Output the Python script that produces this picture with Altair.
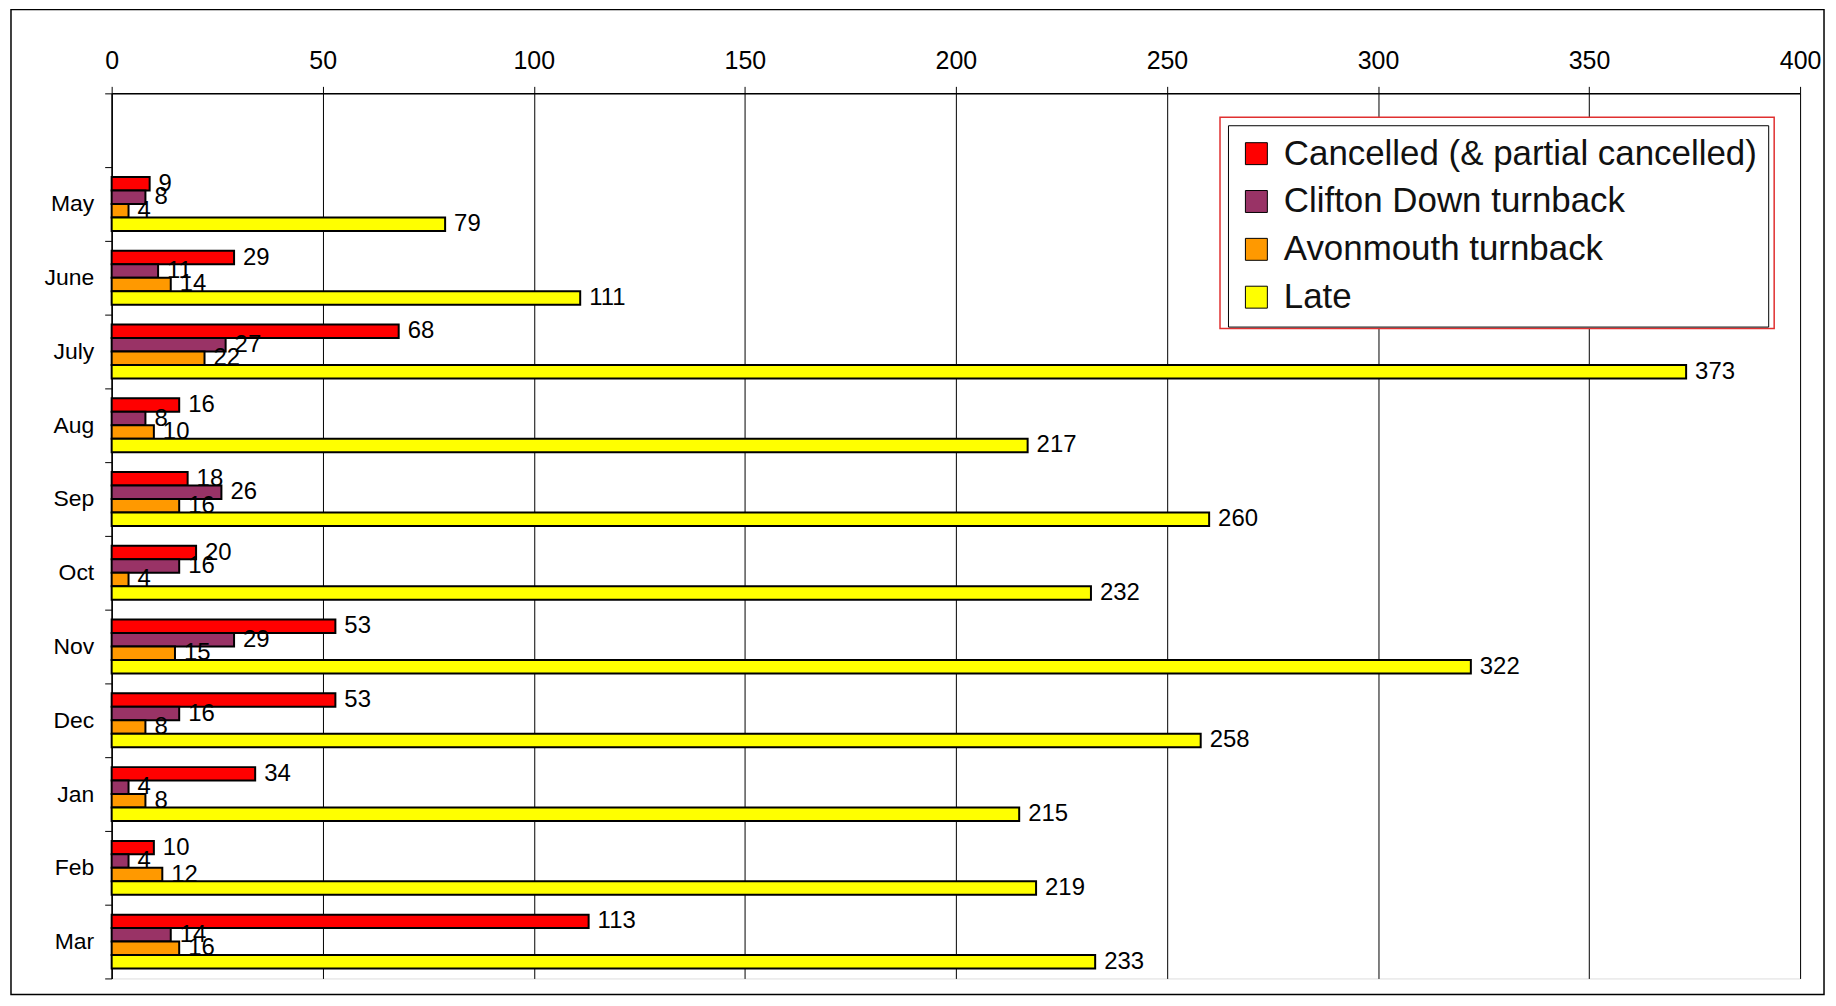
import altair as alt
import pandas as pd

months = ["May", "June", "July", "Aug", "Sep", "Oct", "Nov", "Dec", "Jan", "Feb", "Mar"]
series = ["Cancelled (& partial cancelled)", "Clifton Down turnback", "Avonmouth turnback", "Late"]
cancelled = [9, 29, 68, 16, 18, 20, 53, 53, 34, 10, 113]
clifton = [8, 11, 27, 8, 26, 16, 29, 16, 4, 4, 14]
avonmouth = [4, 14, 22, 10, 16, 4, 15, 8, 8, 12, 16]
late = [79, 111, 373, 217, 260, 232, 322, 258, 215, 219, 233]
colors = ["#FF0000", "#993366", "#FF9900", "#FFFF00"]
x_ticks = [0, 50, 100, 150, 200, 250, 300, 350, 400]

rows = []
for s, vals in zip(series, [cancelled, clifton, avonmouth, late]):
    for m, v in zip(months, vals):
        rows.append({"month": m, "series": s, "value": v})
df = pd.DataFrame(rows)

FONT = "Liberation Sans"
ydomain = [" "] + months

y_enc = alt.Y("month:N", title=None,
              scale=alt.Scale(domain=ydomain, paddingInner=0, paddingOuter=0),
              axis=alt.Axis(tickBand="extent", tickSize=7, tickColor="black",
                            domainColor="black", domainWidth=1.5, labelFontSize=23,
                            labelFont=FONT, labelColor="black", labelPadding=11,
                            grid=False))
yoff_enc = alt.YOffset("series:N", sort=series,
                       scale=alt.Scale(domain=series, paddingInner=0, paddingOuter=0.74))
x_enc = alt.X("value:Q", title=None,
              scale=alt.Scale(domain=[0, 400], nice=False),
              axis=alt.Axis(orient="top", values=x_ticks, grid=True, gridColor="black",
                            gridWidth=1, gridOpacity=1, tickSize=7, tickColor="black",
                            domainColor="black", domainWidth=1.5, labelFontSize=25,
                            labelFont=FONT, labelColor="black", labelPadding=13,
                            labelFlush=False))

bars = alt.Chart(df).mark_bar(stroke="black", strokeWidth=2).encode(
    x=x_enc, y=y_enc, yOffset=yoff_enc,
    color=alt.Color("series:N", scale=alt.Scale(domain=series, range=colors),
                    legend=alt.Legend(orient="none", legendX=1120, legendY=32, title=None,
                                      strokeColor="black", fillColor="white", padding=11,
                                      labelFontSize=35, labelFont=FONT, labelColor="#111111",
                                      symbolType="square", symbolSize=484,
                                      symbolStrokeColor="black", symbolStrokeWidth=1,
                                      rowPadding=12, labelOffset=10, labelLimit=0)),
)

labels = alt.Chart(df).mark_text(align="left", baseline="middle", dx=9, fontSize=24,
                                 font=FONT, color="black").encode(
    x="value:Q", y=alt.Y("month:N"), yOffset=alt.YOffset("series:N", sort=series),
    text="value:Q")

frame_df = pd.DataFrame({"d": [0]})
frame = alt.Chart(frame_df).mark_rect(fill="transparent", stroke="black", strokeWidth=1.5,
                                      clip=False).encode(
    x=alt.value(-101), x2=alt.value(1718), y=alt.value(-84), y2=alt.value(904))
legend_outer = alt.Chart(frame_df).mark_rect(fill="white", stroke="#E03030", strokeWidth=1.5,
                                             clip=False).encode(
    x=alt.value(1112), x2=alt.value(1668), y=alt.value(24), y2=alt.value(236))

chart = alt.layer(frame, bars, labels, legend_outer).properties(
    width=1694, height=888,
    autosize=alt.AutoSizeParams(type="none"),
    padding={"left": 104, "top": 84, "right": 28, "bottom": 18},
).configure_view(fill="#C0C0C0", stroke="#808080", strokeWidth=2
).configure(background="white")

chart.save("out.html", embed_options={"renderer": "svg", "actions": False})
